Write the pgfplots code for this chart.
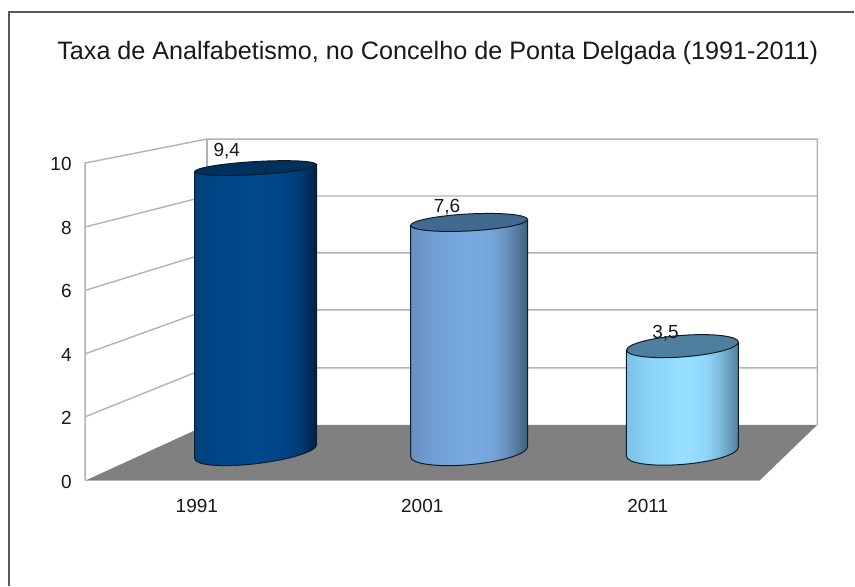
\documentclass[border=0pt]{standalone}
\usepackage{fontspec}
\setmainfont{Liberation Sans}
\usepackage{pgfplots}
\pgfplotsset{compat=1.18}
\definecolor{wallline}{HTML}{B3B3B3}
\definecolor{floorc}{HTML}{808080}
\definecolor{edgec}{HTML}{0C1C2C}
\definecolor{capA}{HTML}{00305C}
\definecolor{capB}{HTML}{426A90}
\definecolor{capC}{HTML}{4F7F9E}
\definecolor{a1}{HTML}{00417D}\definecolor{a2}{HTML}{004688}\definecolor{a3}{HTML}{00498E}
\definecolor{a4}{HTML}{004586}\definecolor{a5}{HTML}{003F7A}\definecolor{a6}{HTML}{00346A}\definecolor{a7}{HTML}{001F42}
\definecolor{b1}{HTML}{6790C0}\definecolor{b2}{HTML}{72A0D4}\definecolor{b3}{HTML}{78AAE2}
\definecolor{b4}{HTML}{74A4D8}\definecolor{b5}{HTML}{6890BE}\definecolor{b6}{HTML}{587C9E}\definecolor{b7}{HTML}{3E5F80}
\definecolor{c1}{HTML}{7CC0E6}\definecolor{c2}{HTML}{8AD2F6}\definecolor{c3}{HTML}{96E0FF}
\definecolor{c4}{HTML}{90D8FA}\definecolor{c5}{HTML}{80BEDE}\definecolor{c6}{HTML}{6CA4C4}\definecolor{c7}{HTML}{4E7F9E}
% shadings: the middle 25..75bp span the width of the path
\pgfdeclarehorizontalshading{cylA}{100bp}{color(0bp)=(a1); color(25bp)=(a1); color(35bp)=(a2); color(50bp)=(a3);
 color(60bp)=(a4); color(66bp)=(a5); color(70bp)=(a6); color(75bp)=(a7); color(100bp)=(a7)}
\pgfdeclarehorizontalshading{cylB}{100bp}{color(0bp)=(b1); color(25bp)=(b1); color(35bp)=(b2); color(50bp)=(b3);
 color(60bp)=(b4); color(66bp)=(b5); color(70bp)=(b6); color(75bp)=(b7); color(100bp)=(b7)}
\pgfdeclarehorizontalshading{cylC}{100bp}{color(0bp)=(c1); color(25bp)=(c1); color(35bp)=(c2); color(50bp)=(c3);
 color(60bp)=(c4); color(66bp)=(c5); color(70bp)=(c6); color(75bp)=(c7); color(100bp)=(c7)}
% tilted ellipse marks: name, half width, rise at the right end, vertical radius, colour or shading
\newcommand\cyltopmark[5]{\pgfdeclareplotmark{#1}{%
  \pgfsetlinewidth{1pt}\pgfsetstrokecolor{edgec}\pgfsetfillcolor{#5}%
  \pgfpathellipse{\pgfpointorigin}{\pgfqpoint{#2pt}{#3pt}}{\pgfqpoint{0pt}{#4pt}}%
  \pgfusepath{fill,stroke}}}
\newcommand\cylbotmark[5]{\pgfdeclareplotmark{#1}{%
  \pgfsetlinewidth{1pt}\pgfsetstrokecolor{edgec}%
  \pgfpathellipse{\pgfpointorigin}{\pgfqpoint{#2pt}{#3pt}}{\pgfqpoint{0pt}{#4pt}}%
  \pgfshadepath{#5}{0}\pgfusepath{stroke}}}
\cyltopmark{topA}{61}{3.5}{6.6}{capA}
\cyltopmark{topB}{58.5}{3}{8.5}{capB}
\cyltopmark{topC}{56}{4}{10.8}{capC}
\cylbotmark{botA}{61}{7}{12}{cylA}
\cylbotmark{botB}{58.5}{5}{13}{cylB}
\cylbotmark{botC}{56}{4.5}{12.7}{cylC}
\pgfplotsset{cylaxis/.style={at={(0pt,0pt)},anchor=south west,scale only axis,width=855pt,height=586pt,
  xmin=-1.1973,xmax=2.8055,ymin=-4.437,ymax=14.967,hide axis,clip=false}}
\begin{document}
\begin{tikzpicture}[x=1pt,y=1pt]
% ---- frame, walls and floor, in picture pixels
\begin{axis}[at={(0pt,0pt)},anchor=south west,scale only axis,width=855pt,height=586pt,
  xmin=0,xmax=855,ymin=0,ymax=586,y dir=reverse,hide axis,clip=false]
\addplot[draw=white,fill=white,forget plot] coordinates {(0,0)(855,0)(855,586)(0,586)} --cycle;
\addplot[draw=black!65,line width=1.4pt] coordinates {(9,586)(9,12)(855,12)};
\addplot[fill=floorc,draw=none] coordinates {(85,481)(760,481)(818,425)(207,425)} --cycle;
\addplot[wallline,line width=1.4pt] coordinates {(85,481)(85,163)(207,139)(818,139)(818,425)};
\addplot[wallline,line width=1.4pt] coordinates {(207,139)(207,425)};
\addplot[wallline,line width=1pt] coordinates {(85,481)(760,481)};
\addplot[wallline,line width=1.4pt] coordinates {(85,227)(207,196)(818,196)};
\addplot[wallline,line width=1.4pt] coordinates {(85,290.5)(207,253)(818,253)};
\addplot[wallline,line width=1.4pt] coordinates {(85,354)(207,310)(818,310)};
\addplot[wallline,line width=1.4pt] coordinates {(85,417)(207,368)(818,368)};
\node[font=\fontsize{25.2}{29}\selectfont,text=black!90] at (axis cs:438,53) {Taxa de Analfabetismo, no Concelho de Ponta Delgada (1991-2011)};
\end{axis}
% ---- front edge of the chart, which carries the tick labels
\begin{axis}[at={(84pt,105pt)},anchor=south west,scale only axis,width=677pt,height=318pt,
  xmin=-0.5,xmax=2.5,ymin=0,ymax=10,xtick={0,1,2},xticklabels={1991,2001,2011},
  ytick={0,2,4,6,8,10},axis line style={draw=none},tick style={draw=none},
  tick label style={font=\fontsize{19}{21}\selectfont,text=black!90},
  /pgf/number format/assume math mode=true,
  yticklabel style={xshift=-9pt,yshift=-1pt},xticklabel style={yshift=-15pt},
  axis x line*=bottom,axis y line*=left]
\end{axis}
% ---- bottoms of the cylinders
\begin{axis}[cylaxis]
\addplot[only marks,mark=botA] coordinates {(0,0)};
\addplot[only marks,mark=botB] coordinates {(1,0)};
\addplot[only marks,mark=botC] coordinates {(2,0)};
\end{axis}
% ---- bodies and tops of the cylinders
\begin{axis}[cylaxis,
  nodes near coords style={font=\fontsize{19}{21}\selectfont,text=black!90,anchor=center},
  /pgf/number format/assume math mode=true,/pgf/number format/use comma]
\addplot[shade,shading=cylA,draw=edgec,line width=1pt] coordinates {(-0.2856,-0.232)(-0.2856,9.284)(0.2856,9.516)(0.2856,0.232)};
\addplot[only marks,mark=topA,point meta=y,nodes near coords,
  nodes near coords style={xshift=-29pt,yshift=17pt}] coordinates {(0,9.4)};
\addplot[shade,shading=cylB,draw=edgec,line width=1pt] coordinates {(0.7261,-0.166)(0.7261,7.5)(1.2739,7.7)(1.2739,0.166)};
\addplot[only marks,mark=topB,point meta=y,nodes near coords,
  nodes near coords style={xshift=-22pt,yshift=15pt}] coordinates {(1,7.6)};
\addplot[shade,shading=cylC,draw=edgec,line width=1pt] coordinates {(1.7378,-0.149)(1.7378,3.368)(2.2622,3.632)(2.2622,0.149)};
\addplot[only marks,mark=topC,point meta=y,nodes near coords,
  nodes near coords style={xshift=-17pt,yshift=13pt}] coordinates {(2,3.5)};
\end{axis}
\end{tikzpicture}
\end{document}
